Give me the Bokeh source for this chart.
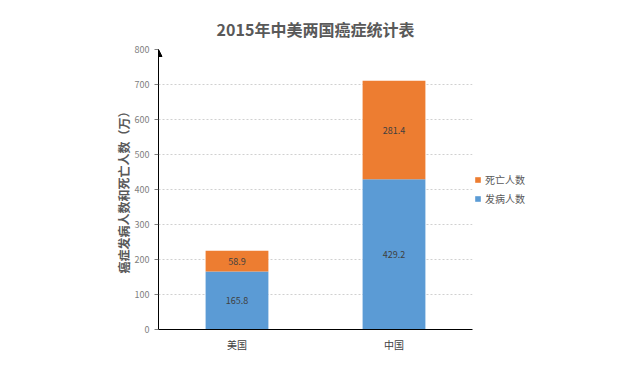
from bokeh.plotting import figure
from bokeh.models import ColumnDataSource, Legend, LegendItem, Arrow, NormalHead, SingleIntervalTicker
from bokeh.core.properties import value
from bokeh.embed import file_html
from bokeh.resources import INLINE

countries = ["美国", "中国"]
incidence = [165.8, 429.2]
deaths = [58.9, 281.4]
series_names = ["发病人数", "死亡人数"]
colors = ["#5B9BD5", "#ED7D31"]

FONT = "Noto Sans CJK SC"

src = ColumnDataSource(dict(
    country=countries,
    inc=incidence,
    dea=deaths,
    inc_y=[v / 2 for v in incidence],
    dea_y=[a + b / 2 for a, b in zip(incidence, deaths)],
    inc_t=["%.1f" % v for v in incidence],
    dea_t=["%.1f" % v for v in deaths],
))

p = figure(x_range=countries, y_range=(0, 800), frame_width=314, frame_height=280,
           output_backend="svg", toolbar_location=None,
           min_border_left=158, min_border_right=0, min_border_top=49, min_border_bottom=30)

r = p.vbar_stack(["inc", "dea"], x="country", width=0.4, color=colors, source=src, line_color=None)

p.text(x="country", y="inc_y", text="inc_t", source=src, text_align="center", text_baseline="middle",
       text_font=value(FONT), text_font_size="9px", text_color="#404040")
p.text(x="country", y="dea_y", text="dea_t", source=src, text_align="center", text_baseline="middle",
       text_font=value(FONT), text_font_size="9px", text_color="#404040")

p.title.text = "2015年中美两国癌症统计表"
p.title.align = "center"
p.title.standoff = 17
p.title.text_font = FONT
p.title.text_font_size = "16px"
p.title.text_font_style = "bold"
p.title.text_color = "#595959"

p.outline_line_color = None
p.xgrid.grid_line_color = None
p.ygrid.grid_line_color = "#D0D0D0"
p.ygrid.grid_line_dash = "2 2"
p.yaxis.ticker = SingleIntervalTicker(interval=100)
p.yaxis.axis_line_color = "black"
p.yaxis.major_tick_line_color = "#808080"
p.yaxis.major_tick_out = 4
p.yaxis.major_tick_in = 0
p.yaxis.minor_tick_line_color = None
p.yaxis.major_label_text_font = FONT
p.yaxis.major_label_text_font_size = "9px"
p.yaxis.major_label_text_color = "#808080"
p.yaxis.axis_label = "癌症发病人数和死亡人数（万）"
p.yaxis.axis_label_text_font = FONT
p.yaxis.axis_label_text_font_size = "12px"
p.yaxis.axis_label_text_font_style = "bold"
p.yaxis.axis_label_text_color = "#595959"
p.yaxis.axis_label_standoff = 0

p.xaxis.axis_line_color = "black"
p.xaxis.major_tick_line_color = None
p.xaxis.minor_tick_line_color = None
p.xaxis.major_label_standoff = 1
p.xaxis.major_label_text_font = FONT
p.xaxis.major_label_text_font_size = "10px"
p.xaxis.major_label_text_color = "#404040"

p.add_layout(Arrow(end=NormalHead(size=7, fill_color="black", line_color="black"),
                   x_start=0, y_start=0, x_end=0, y_end=800, line_color="black", line_width=1))

legend = Legend(items=[LegendItem(label=series_names[1], renderers=[r[1]]),
                       LegendItem(label=series_names[0], renderers=[r[0]])],
                location="center_left", padding=0, spacing=4, margin=2,
                glyph_width=7, glyph_height=7, label_height=12, label_standoff=4,
                label_text_font=FONT, label_text_font_size="10px", label_text_color="#595959",
                border_line_color=None, background_fill_alpha=0)
p.add_layout(legend, "right")

open("out.html", "w").write(file_html(p, INLINE))
